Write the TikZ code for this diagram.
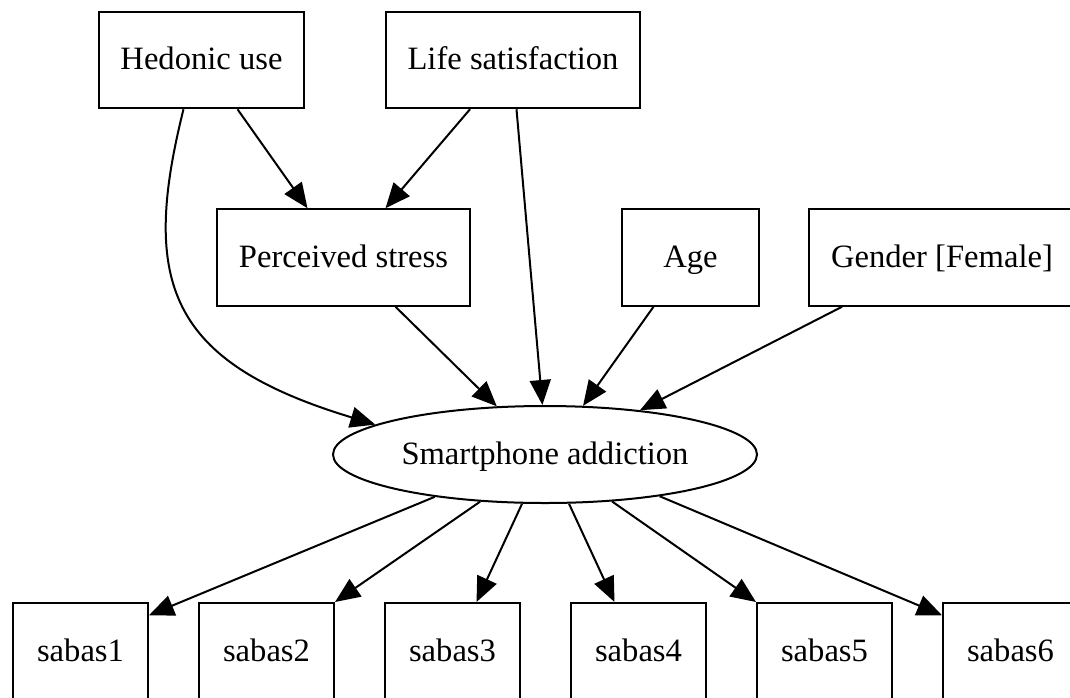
\documentclass[tikz,border=0pt]{standalone}
\usepackage{fontspec}
\setmainfont{Liberation Serif}
\usetikzlibrary{arrows.meta, shapes.geometric, positioning}

\begin{document}
\begin{tikzpicture}[x=1pt, y=-1pt, line width=2pt,
    font=\fontsize{32.6}{39}\selectfont,
    box/.style={draw, rectangle, inner sep=0pt, minimum height=96.5pt,
      text height=19.5pt, text depth=0pt},
    latent/.style={draw, ellipse, inner sep=0pt, minimum width=424pt,
      minimum height=97pt, text height=19.5pt, text depth=0pt},
    path/.style={-{Triangle[length=25pt, width=21pt]}}]
\useasboundingbox (0,0) rectangle (1070,697);

% predictors
\node[box, minimum width=205pt] (hed) at (201.5,60) {Hedonic use};
\node[box, minimum width=254pt] (life) at (513,60) {Life satisfaction};
\node[box, minimum width=253pt] (stress) at (343.5,257.5) {Perceived stress};
\node[box, minimum width=137pt] (age) at (690.5,257.5) {Age};
\node[box, minimum width=266pt] (gender) at (942,257.5) {Gender [Female]};

\node[latent] (addict) at (545,454.5) {Smartphone addiction};

% indicators
\foreach \i in {1,...,6}
  \node[box, minimum width=135pt] (s\i) at (-105.5+186*\i,651.25) {sabas\i};

\draw[path] ([xshift=36pt]hed.south) -- ([xshift=-36pt]stress.north);
\draw[path] ([xshift=-43pt]life.south) -- ([xshift=42pt]stress.north);
\draw[path] ([xshift=3.5pt]life.south) -- (addict.93.9);
\draw[path] ([xshift=-18pt]hed.south) .. controls +(-43.7,174.6) and +(-205.8,-62.3) .. (addict.170.4);
\draw[path] ([xshift=52pt]stress.south) -- (addict.135.8);
\draw[path] ([xshift=-37pt]age.south) -- (addict.52.7);
\draw[path] ([xshift=-100pt]gender.south) -- (addict.25.7);

\draw[path] (addict.-159.9) -- ([yshift=36pt]s1.east);
\draw[path] (addict.-144.2) -- (s2.north east);
\draw[path] (addict.-115.2) -- ([xshift=24pt]s3.north);
\draw[path] (addict.-64) -- ([xshift=-24pt]s4.north);
\draw[path] (addict.-35.5) -- (s5.north west);
\draw[path] (addict.-20.1) -- ([yshift=36pt]s6.west);
\end{tikzpicture}
\end{document}
